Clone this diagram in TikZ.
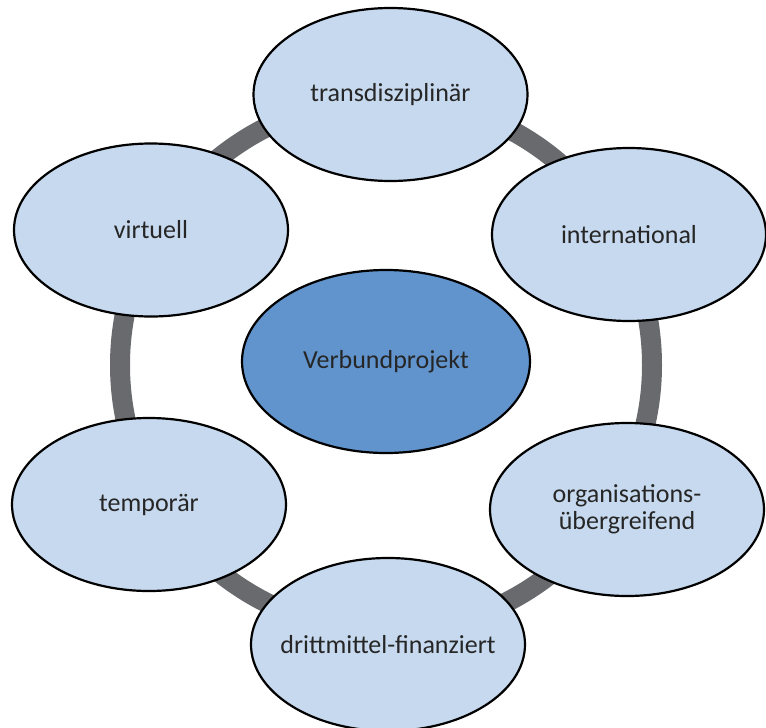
\documentclass[tikz,border=0pt]{standalone}
\usepackage{fontspec}
\setmainfont{Carlito}
\usetikzlibrary{shapes.geometric}
\definecolor{ringgray}{HTML}{696A6E}
\definecolor{lightblue}{HTML}{C6D9EE}
\definecolor{midblue}{HTML}{6194CD}
\definecolor{txt}{HTML}{262626}
\begin{document}
\begin{tikzpicture}[x=1pt,y=-1pt,
  bubble/.style={ellipse, draw=black, line width=2.2pt, fill=lightblue,
    minimum width=274pt, minimum height=173pt, inner sep=0pt,
    font=\fontsize{26}{27}\selectfont, text=txt, align=center},
  core/.style={bubble, fill=midblue, minimum width=288pt, minimum height=183pt},
  ringline/.style={draw=ringgray, line width=20pt}]
\useasboundingbox (0,0) rectangle (766,728);
\path[ringline] (386,365) circle [radius=266pt];
\node[bubble] (trans) at (390.5,94.5) {transdisziplinär};
\node[bubble] (inter) at (629,234.5) {international};
\node[bubble] (virt) at (151,230) {virtuell};
\node[core] (verb) at (386,361.5) {Verbundprojekt};
\node[bubble] (temp) at (149,504.5) {temporär};
\node[bubble] (orga) at (627,509.5) {organisations-\\übergreifend};
\node[bubble] (dritt) at (388,644.5) {\makebox[0pt]{drittmittel-finanziert}};
\end{tikzpicture}
\end{document}
